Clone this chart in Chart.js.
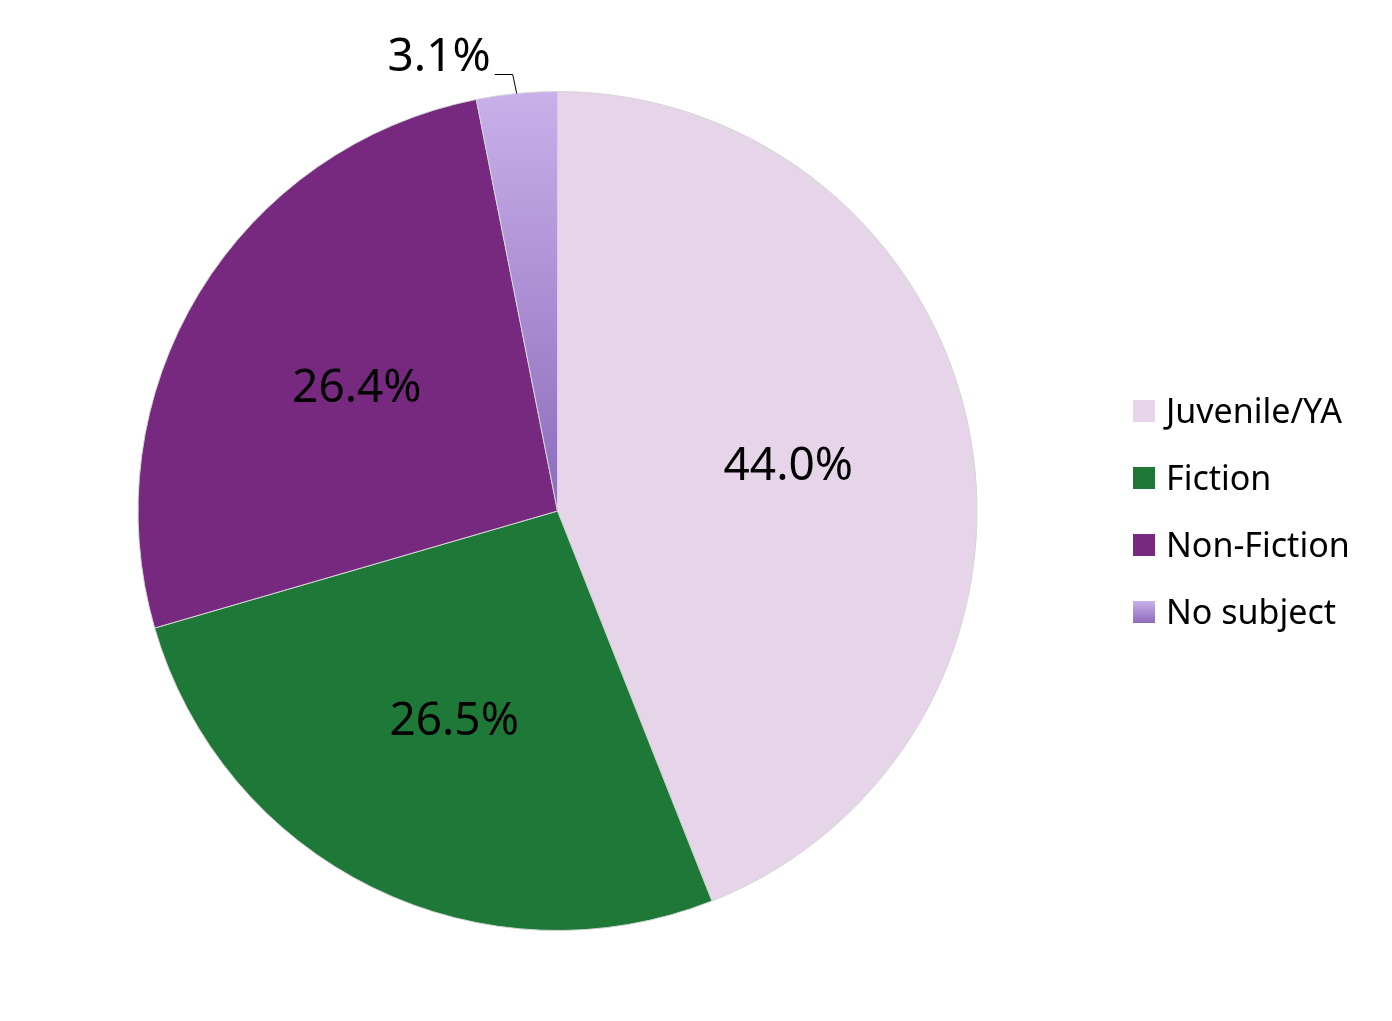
<!DOCTYPE html>
<html>
<head>
<meta charset="utf-8">
<script src="https://cdn.jsdelivr.net/npm/chart.js@4"></script>
<style>
  html, body { margin: 0; padding: 0; background: #fff; }
  #wrap { width: 1392px; height: 1021px; }
</style>
</head>
<body>
<div id="wrap"><canvas id="pieChart"></canvas></div>
<script>
const categories = ['Juvenile/YA', 'Fiction', 'Non-Fiction', 'No subject'];
const shares = [44.0, 26.5, 26.4, 3.1];
const sliceColors = ['#E6D5E8', '#1E7838', '#76297F', null];

const FONT = '"Noto Sans", "Open Sans", sans-serif';

// percentage labels + leader line for the small slice
const labelPlugin = {
  id: 'sliceLabels',
  afterDatasetsDraw(chart) {
    const ctx = chart.ctx;
    const arcs = chart.getDatasetMeta(0).data;
    ctx.save();
    ctx.fillStyle = '#000';
    ctx.font = '46px ' + FONT;
    ctx.textBaseline = 'middle';
    arcs.forEach((arc, i) => {
      const text = shares[i].toFixed(1) + '%';
      const mid = (arc.startAngle + arc.endAngle) / 2;
      if (shares[i] < 5) {
        const ex = arc.x + Math.cos(mid) * arc.outerRadius;
        const ey = arc.y + Math.sin(mid) * arc.outerRadius;
        ctx.strokeStyle = '#000';
        ctx.lineWidth = 1;
        ctx.beginPath();
        ctx.moveTo(ex, ey);
        ctx.lineTo(ex - 4, ey - 19);
        ctx.lineTo(ex - 22, ey - 19);
        ctx.stroke();
        ctx.textAlign = 'right';
        ctx.fillText(text, ex - 26, ey - 36);
      } else {
        const r = arc.outerRadius * 0.56;
        ctx.textAlign = 'center';
        ctx.fillText(text, arc.x + Math.cos(mid) * r, arc.y + Math.sin(mid) * r);
      }
    });
    ctx.restore();
  }
};

// legend on the right
const legendPlugin = {
  id: 'sideLegend',
  afterDraw(chart) {
    const ctx = chart.ctx;
    const x = 1133, y0 = 411, step = 67, box = 22;
    ctx.save();
    ctx.font = '34px ' + FONT;
    ctx.textBaseline = 'middle';
    ctx.textAlign = 'left';
    categories.forEach((name, i) => {
      const y = y0 + i * step;
      if (sliceColors[i]) {
        ctx.fillStyle = sliceColors[i];
      } else {
        const g = ctx.createLinearGradient(0, y - box / 2, 0, y + box / 2);
        g.addColorStop(0, '#C9B0EA');
        g.addColorStop(1, '#8C6BBB');
        ctx.fillStyle = g;
      }
      ctx.fillRect(x, y - box / 2, box, box);
      ctx.fillStyle = '#000';
      ctx.fillText(name, x + 33, y + 2);
    });
    ctx.restore();
  }
};

new Chart(document.getElementById('pieChart').getContext('2d'), {
  type: 'pie',
  data: {
    labels: categories,
    datasets: [{
      data: shares,
      backgroundColor: (c) => {
        const col = sliceColors[c.dataIndex];
        if (col) return col;
        const area = c.chart.chartArea;
        if (!area) return '#B09AD8';
        const g = c.chart.ctx.createLinearGradient(0, area.top, 0, (area.top + area.bottom) / 2);
        g.addColorStop(0, '#C9B0EA');
        g.addColorStop(1, '#8C6BBB');
        return g;
      },
      borderColor: '#d4d4d4',
      borderWidth: 1
    }]
  },
  options: {
    responsive: true,
    maintainAspectRatio: false,
    animation: false,
    layout: { padding: { left: 137, right: 414, top: 91, bottom: 90 } },
    plugins: {
      legend: { display: false },
      tooltip: { enabled: false }
    }
  },
  plugins: [labelPlugin, legendPlugin]
});
</script>
</body>
</html>
